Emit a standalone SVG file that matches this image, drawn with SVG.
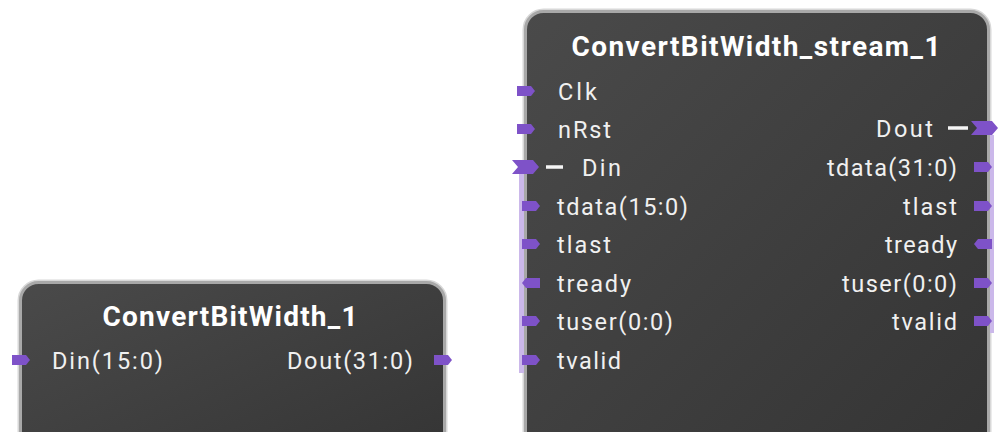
<svg xmlns="http://www.w3.org/2000/svg" xmlns:xlink="http://www.w3.org/1999/xlink" width="998" height="432" viewBox="0 0 998 432">
<defs>
  <linearGradient id="bodyGrad" x1="0" y1="0" x2="1" y2="1">
    <stop offset="0" stop-color="#4a4a4a"/>
    <stop offset="1" stop-color="#333333"/>
  </linearGradient>
  <path id="pinR" d="M0,-5 H14 L18,0 L14,5 H0 Z"/>
  <path id="pinL" d="M4,-5 H18 V5 H4 L0,0 Z"/>
  <path id="bus" d="M0,-7 H21 L27,0 L21,7 H0 L6,0 Z"/>
</defs>
<style>
  .body { fill: url(#bodyGrad); stroke: #a8a8a8; stroke-width: 3; }
  .halo { fill: none; stroke: #d8d8d8; stroke-width: 6; }
  .title { font-family: Roboto, "Liberation Sans", sans-serif; font-weight: bold; font-size: 28px; fill: #ffffff; text-anchor: middle; }
  .lbl { font-family: Roboto, "Liberation Sans", sans-serif; font-size: 23.5px; fill: #f0f0f0; }
  .lblR { text-anchor: end; }
  .pin { fill: #7e52c8; }
  .bar { fill: #cbb8ea; }
  .dash { stroke: #f5f5f5; stroke-width: 3.5; }
</style>

<g id="connectors"></g>

<g id="ConvertBitWidth_1">
  <rect class="halo" x="20.5" y="282.5" width="424" height="200" rx="18"/>
  <rect class="body" x="20.5" y="282.5" width="424" height="200" rx="18"/>
  <text class="title" x="230" y="326" textLength="255" lengthAdjust="spacing">ConvertBitWidth_1</text>
  <use href="#pinR" class="pin" x="12" y="360"/>
  <text class="lbl" x="52" y="368.5" textLength="111" lengthAdjust="spacing">Din(15:0)</text>
  <use href="#pinR" class="pin" x="434" y="360"/>
  <text class="lbl lblR" x="413" y="368.5" textLength="126" lengthAdjust="spacing">Dout(31:0)</text>
</g>

<g id="ConvertBitWidth_stream_1">
  <rect class="halo" x="525.5" y="11.5" width="463" height="480" rx="18"/>
  <rect class="body" x="525.5" y="11.5" width="463" height="480" rx="18"/>
  <text class="title" x="756" y="56" textLength="369" lengthAdjust="spacing">ConvertBitWidth_stream_1</text>

  <rect class="bar" x="519" y="174" width="5" height="199"/>
  <rect class="bar" x="990" y="135" width="4" height="198"/>

  <use href="#pinR" class="pin" x="517" y="91"/>
  <text class="lbl" x="558" y="99.5" textLength="39" lengthAdjust="spacing">Clk</text>
  <use href="#pinR" class="pin" x="517" y="129"/>
  <text class="lbl" x="558" y="137.5" textLength="53" lengthAdjust="spacing">nRst</text>
  <use href="#bus" class="pin" x="512" y="167"/>
  <line class="dash" x1="546" y1="167" x2="563" y2="167"/>
  <text class="lbl" x="582" y="175.5" textLength="39" lengthAdjust="spacing">Din</text>
  <use href="#pinR" class="pin" x="522" y="206"/>
  <text class="lbl" x="557" y="214.5" textLength="131" lengthAdjust="spacing">tdata(15:0)</text>
  <use href="#pinR" class="pin" x="522" y="244"/>
  <text class="lbl" x="557" y="252.5" textLength="54" lengthAdjust="spacing">tlast</text>
  <use href="#pinL" class="pin" x="522" y="283"/>
  <text class="lbl" x="557" y="291.5" textLength="74" lengthAdjust="spacing">tready</text>
  <use href="#pinR" class="pin" x="522" y="321"/>
  <text class="lbl" x="557" y="329.5" textLength="116" lengthAdjust="spacing">tuser(0:0)</text>
  <use href="#pinR" class="pin" x="522" y="360"/>
  <text class="lbl" x="557" y="368.5" textLength="64" lengthAdjust="spacing">tvalid</text>

  <use href="#bus" class="pin" x="971" y="128"/>
  <line class="dash" x1="948" y1="128" x2="968" y2="128"/>
  <text class="lbl lblR" x="933" y="136.5" textLength="57" lengthAdjust="spacing">Dout</text>
  <use href="#pinR" class="pin" x="974" y="167"/>
  <text class="lbl lblR" x="957" y="175.5" textLength="130" lengthAdjust="spacing">tdata(31:0)</text>
  <use href="#pinR" class="pin" x="974" y="206"/>
  <text class="lbl lblR" x="957" y="214.5" textLength="54" lengthAdjust="spacing">tlast</text>
  <use href="#pinL" class="pin" x="974" y="244"/>
  <text class="lbl lblR" x="957" y="252.5" textLength="72" lengthAdjust="spacing">tready</text>
  <use href="#pinR" class="pin" x="974" y="283"/>
  <text class="lbl lblR" x="957" y="291.5" textLength="115" lengthAdjust="spacing">tuser(0:0)</text>
  <use href="#pinR" class="pin" x="974" y="321"/>
  <text class="lbl lblR" x="957" y="329.5" textLength="65" lengthAdjust="spacing">tvalid</text>
</g>
</svg>
